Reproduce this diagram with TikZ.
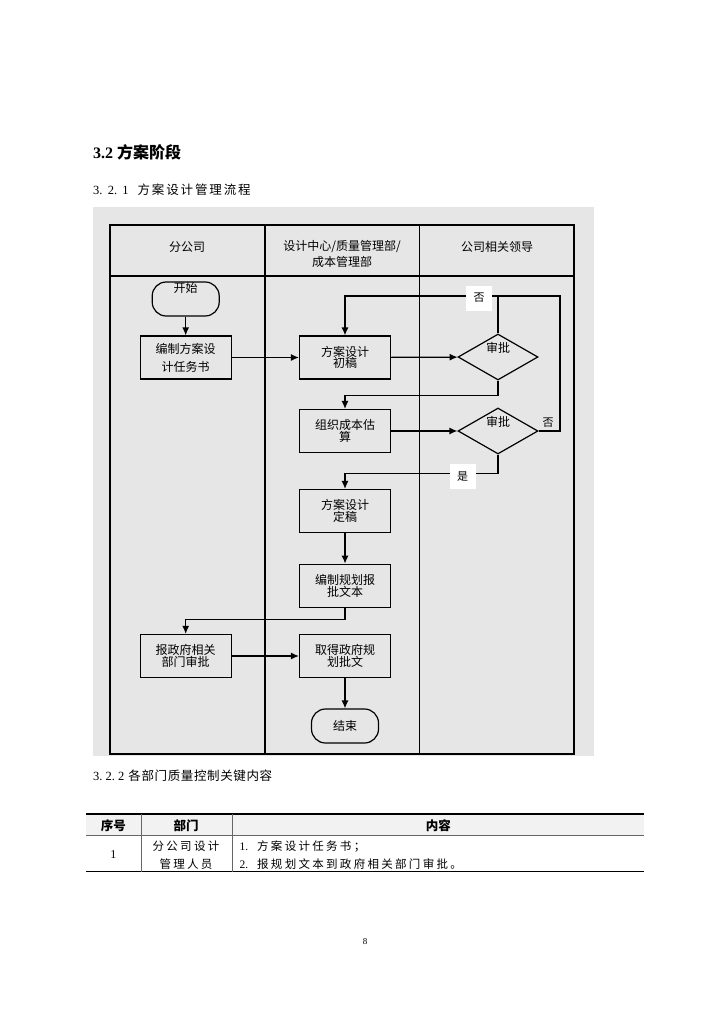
\documentclass[tikz,border=0pt]{standalone}
\usepackage{fontspec}
\setmainfont{Liberation Serif}
\newfontfamily\cjk{Noto Sans CJK SC}
\newfontfamily\cjksp{Noto Sans CJK SC}[LetterSpace=15]
\newfontfamily\cjkwide{Noto Sans CJK SC}[LetterSpace=20]
\usetikzlibrary{shapes.geometric,arrows.meta}
\definecolor{lanegray}{HTML}{E6E6E6}
\definecolor{headgray}{HTML}{F2F2F2}

\begin{document}
\begin{tikzpicture}[x=1pt,y=-1pt,
    proc/.style={draw,line width=1.2pt,minimum width=91pt,minimum height=43pt,
      inner sep=0pt,align=center,font=\cjk\fontsize{12}{14}\selectfont},
    term/.style={draw,line width=1.2pt,rounded corners=14pt,minimum width=67pt,
      minimum height=34pt,inner sep=0pt,font=\cjk\fontsize{12}{14}\selectfont},
    decide/.style={draw,line width=1.2pt,diamond,aspect=1.7,minimum width=80pt,
      minimum height=46pt,inner sep=0pt,text height=9pt,text depth=18pt,
      font=\cjk\fontsize{12}{14}\selectfont},
    tag/.style={fill=white,minimum width=26pt,minimum height=25pt,inner sep=0pt,
      font=\cjk\fontsize{11}{12}\selectfont},
    flow/.style={line width=1.2pt,-{Latex[length=8pt,width=7pt]}},
    link/.style={line width=1.2pt},
    lane/.style={line width=1.6pt}]
    \useasboundingbox (0,0) rectangle (724,1024);
    \fill[white] (0,0) rectangle (724,1024);

    % headings
    \node[anchor=west,inner sep=0pt] (title) at (93,152)
      {\fontsize{16}{18}\selectfont\textbf{3.2} {\cjk\bfseries 方案阶段}};
    \node[anchor=west,inner sep=0pt] (sub1) at (93,190)
      {\fontsize{12.5}{14}\selectfont 3.\ \,2.\ \,1\hspace{9pt}{\cjksp 方案设计管理流程}};

    % swimlanes
    \fill[lanegray] (93,207) rectangle (594,756);
    \draw[lane] (110,225) rectangle (574,754);
    \draw[lane] (110,276) -- (574,276);
    \draw[lane] (264.7,225) -- (264.7,754);
    \draw[lane] (419.3,225) -- (419.3,754);
    \node[font=\cjk\fontsize{12}{14}\selectfont] (laneA) at (187,247) {分公司};
    \node[font=\cjk\fontsize{12}{14}\selectfont,align=center] (laneB) at (342,254)
      {设计中心/质量管理部/\\[2pt]成本管理部};
    \node[font=\cjk\fontsize{12}{14}\selectfont] (laneC) at (497,247) {公司相关领导};

    % steps
    \node[term,text height=9pt,text depth=22pt] (start) at (185.7,299) {开始};
    \node[proc] (task) at (185.7,357.5) {编制方案设\\[4pt]计任务书};
    \node[proc] (draft) at (345,357.5) {方案设计\\[-2.5pt]初稿};
    \node[decide] (chk1) at (498,357) {审批};
    \node[proc] (cost) at (345,431) {组织成本估\\[-2.5pt]算};
    \node[decide] (chk2) at (498,431) {审批};
    \node[proc] (final) at (345,511) {方案设计\\[-2.5pt]定稿};
    \node[proc] (report) at (345,585.7) {编制规划报\\[-2.5pt]批文本};
    \node[proc] (gov) at (185.7,656) {报政府相关\\[-2.5pt]部门审批};
    \node[proc] (obtain) at (345,656) {取得政府规\\[-2.5pt]划批文};
    \node[term] (end) at (345,726) {结束};
    \coordinate (back) at (560,296);

    \draw[flow] (start) -- (task);
    \draw[flow] (task) -- (draft);
    \draw[flow] (draft) -- (chk1);
    \draw[flow] (chk1.north) |- (draft.north |- back) -- (draft.north);
    \draw[link] (chk2.east) -| (back) -- (chk1.north |- back);
    \draw[flow] (chk1.south) -- ++(0,15) -| (cost.north);
    \draw[flow] (cost) -- (chk2);
    \draw[flow] (chk2.south) -- ++(0,18.7) -| (final.north);
    \draw[flow] (final) -- (report);
    \draw[flow] (report.south) -- ++(0,12) -| (gov.north);
    \draw[flow] (gov) -- (obtain);
    \draw[flow] (obtain) -- (end);

    \node[tag] (no1) at (479,298) {否};
    \node[tag] (yes1) at (462.5,476.5) {是};
    \node[font=\cjk\fontsize{11}{12}\selectfont] (no2) at (548,423) {否};

    % table
    \node[anchor=west,inner sep=0pt] (sub2) at (93,776)
      {\fontsize{12.5}{14}\selectfont 3.\ 2.\ 2\hspace{4pt}{\cjk\addfontfeatures{LetterSpace=5} 各部门质量控制关键内容}};
    \fill[headgray] (86,814) rectangle (644,835);
    \draw[line width=1.4pt] (86,814) -- (644,814);
    \draw[line width=0.8pt,black!60] (86,835) -- (644,835);
    \draw[line width=1.4pt] (86,871.7) -- (644,871.7);
    \draw[line width=0.8pt,black!60] (141,814) -- (141,871.7);
    \draw[line width=0.8pt,black!60] (232.7,814) -- (232.7,871.7);
    \node[font=\cjk\bfseries\fontsize{12.5}{14}\selectfont] (hNo) at (113.3,825.5) {序号};
    \node[font=\cjk\bfseries\fontsize{12.5}{14}\selectfont] (hDept) at (186,825.5) {部门};
    \node[font=\cjk\bfseries\fontsize{12.5}{14}\selectfont] (hBody) at (438.3,825.5) {内容};
    \node[font=\fontsize{12}{14}\selectfont] (rNo) at (113.3,854.5) {1};
    \node[font=\cjkwide\fontsize{11.5}{18.5}\selectfont,align=center] (rDept) at (186,855)
      {分公司设计\\管理人员};
    \node[anchor=west,font=\fontsize{11.5}{18.5}\selectfont,align=left] (rBody) at (236,855)
      {1.\hspace{9pt}{\cjkwide 方案设计任务书；}\\2.\hspace{9pt}{\cjkwide 报规划文本到政府相关部门审批。}};

    \node[font=\fontsize{9}{10}\selectfont] (pnum) at (365,942) {8};
\end{tikzpicture}
\end{document}
